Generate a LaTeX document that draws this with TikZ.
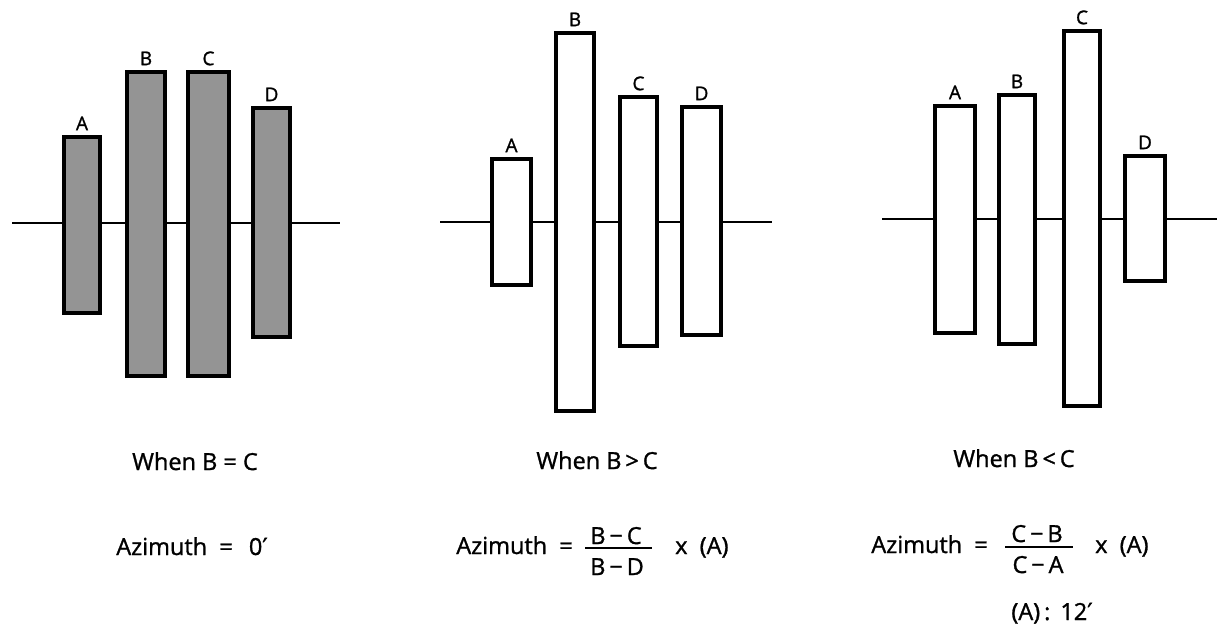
\documentclass[tikz,border=0pt]{standalone}
\usepackage{fontspec}
\setmainfont{Open Sans}[FakeBold=1.2]
\newfontfamily\symfont{DejaVu Sans}[FakeBold=1.2]
\newcommand{\prm}{{\symfont ′}}
\begin{document}
\begin{tikzpicture}[x=1pt,y=-1pt,
  bar/.style={draw, line width=3.6pt, fill=white, inner sep=0pt},
  shaded/.style={bar, fill=black!42},
  axisline/.style={line width=1.6pt},
  fracbar/.style={line width=1.4pt},
  lab/.style={font=\fontsize{19}{19}\selectfont, inner sep=0pt, anchor=base},
  txt/.style={font=\fontsize{23.5}{26}\selectfont, inner sep=0pt}]
\useasboundingbox (0,0) rectangle (1217,626);

% ---------- panel 1 ----------
\coordinate (a1l) at (12,223);
\coordinate (a1r) at (340,223);
\draw[axisline] (a1l) -- (a1r);
\node[shaded, minimum width=36, minimum height=176] (p1A) at (82,225) {};
\node[shaded, minimum width=38, minimum height=304] (p1B) at (146,224) {};
\node[shaded, minimum width=41, minimum height=304] (p1C) at (208.5,224) {};
\node[shaded, minimum width=37, minimum height=229] (p1D) at (271.5,222.5) {};
\foreach \n in {A,B,C,D}{\node[lab] (l1\n) at ([yshift=5pt]p1\n.north) {\n};}

% ---------- panel 2 ----------
\coordinate (a2l) at (440,222);
\coordinate (a2r) at (772,222);
\draw[axisline] (a2l) -- (a2r);
\node[bar, minimum width=39, minimum height=126] (p2A) at (511.5,222) {};
\node[bar, minimum width=38, minimum height=378] (p2B) at (575,222) {};
\node[bar, minimum width=37, minimum height=249] (p2C) at (638.5,221.5) {};
\node[bar, minimum width=39, minimum height=228] (p2D) at (701.5,221) {};
\foreach \n in {A,B,C,D}{\node[lab] (l2\n) at ([yshift=5pt]p2\n.north) {\n};}

% ---------- panel 3 ----------
\coordinate (a3l) at (882,219);
\coordinate (a3r) at (1217,219);
\draw[axisline] (a3l) -- (a3r);
\node[bar, minimum width=40, minimum height=227] (p3A) at (955,219.5) {};
\node[bar, minimum width=36, minimum height=249] (p3B) at (1017,219.5) {};
\node[bar, minimum width=36, minimum height=375] (p3C) at (1082,218.5) {};
\node[bar, minimum width=40, minimum height=125] (p3D) at (1145,218.5) {};
\foreach \n in {A,B,C,D}{\node[lab] (l3\n) at ([yshift=5pt]p3\n.north) {\n};}

% ---------- captions ----------
\node[txt, anchor=base] (w1) at (195,470) {When B = C};
\node[txt, anchor=base] (w2) at (597,469) {When B\,>\,C};
\node[txt, anchor=base] (w3) at (1014,467) {When B\,<\,C};

\node[txt, anchor=base] (z1) at (192,555) {Azimuth \ = \ \,0\prm};

\node[txt, anchor=base east] (z2) at (573,554) {Azimuth \ =};
\node[txt, anchor=base] (n2) at (616,544) {B\,−\,C};
\node[txt, anchor=base] (d2) at (617,575) {B\,−\,D};
\coordinate (b2l) at (585,548);
\coordinate (b2r) at (652,548);
\draw[fracbar] (b2l) -- (b2r);
\node[txt, anchor=base west] (x2) at (675,554) {x \ (A)};

\node[txt, anchor=base east] (z3) at (988,553) {Azimuth \ =};
\node[txt, anchor=base] (n3) at (1037,542) {C\,−\,B};
\node[txt, anchor=base] (d3) at (1038,573) {C\,−\,A};
\coordinate (b3l) at (1005,547);
\coordinate (b3r) at (1073,547);
\draw[fracbar] (b3l) -- (b3r);
\node[txt, anchor=base west] (x3) at (1095,553) {x \ (A)};

\node[txt, anchor=base] (k3) at (1052,620) {(A)\,:\, 12\prm};
\end{tikzpicture}
\end{document}
